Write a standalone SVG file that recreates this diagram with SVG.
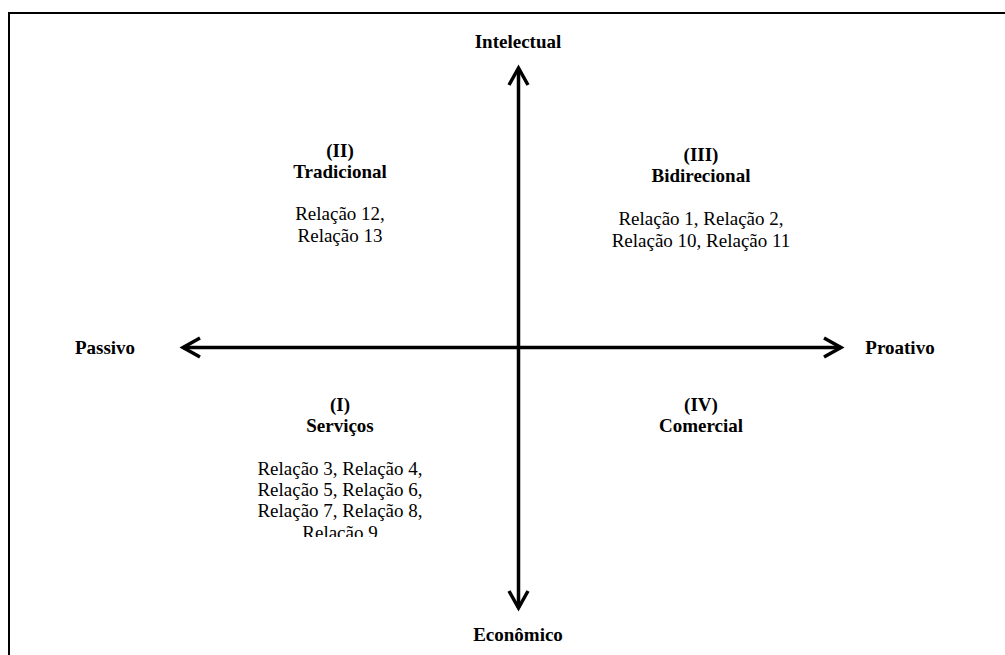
<svg xmlns="http://www.w3.org/2000/svg" width="1005" height="655" viewBox="0 0 1005 655">
<style>
text{font-family:"Liberation Serif","Times New Roman",serif;font-size:19px;fill:#000;text-anchor:middle}
.b{font-weight:bold}
.ax{stroke:#000;stroke-width:3.5;fill:none}
.frame{stroke:#000;stroke-width:2;fill:none}
</style>
<defs>
<marker id="chev" markerUnits="userSpaceOnUse" viewBox="-22 -12 26 24" refX="0" refY="0" markerWidth="26" markerHeight="24" orient="auto-start-reverse">
<path d="M-17,-9.5 L0,0 L-17,9.5" stroke="#000" stroke-width="3.5" fill="none" stroke-linejoin="miter"/>
</marker>
<clipPath id="clipI"><rect x="200" y="380" width="280" height="157"/></clipPath>
</defs>
<rect width="1005" height="655" fill="#fff"/>
<path class="frame" d="M9,660 V13 H1010"/>
<g id="connectors">
<line class="ax" x1="518.5" y1="68" x2="518.5" y2="608" marker-start="url(#chev)" marker-end="url(#chev)"/>
<line class="ax" x1="183" y1="347.5" x2="841" y2="347.5" marker-start="url(#chev)" marker-end="url(#chev)"/>
</g>
<g id="intelectual"><text class="b" x="518" y="48">Intelectual</text></g>
<g id="economico"><text class="b" x="518" y="641">Econômico</text></g>
<g id="passivo"><text class="b" x="105" y="354">Passivo</text></g>
<g id="proativo"><text class="b" x="900" y="354">Proativo</text></g>
<g id="q2">
<text class="b" x="340" y="157">(II)</text>
<text class="b" x="340" y="178">Tradicional</text>
<text x="340" y="220">Relação 12,</text>
<text x="340" y="242">Relação 13</text>
</g>
<g id="q3">
<text class="b" x="701" y="161">(III)</text>
<text class="b" x="701" y="182">Bidirecional</text>
<text x="701" y="225">Relação 1, Relação 2,</text>
<text x="701" y="247">Relação 10, Relação 11</text>
</g>
<g id="q1" clip-path="url(#clipI)">
<text class="b" x="340" y="411">(I)</text>
<text class="b" x="340" y="432">Serviços</text>
<text x="340" y="475">Relação 3, Relação 4,</text>
<text x="340" y="496">Relação 5, Relação 6,</text>
<text x="340" y="517">Relação 7, Relação 8,</text>
<text x="340" y="539">Relação 9</text>
</g>
<g id="q4">
<text class="b" x="701" y="411">(IV)</text>
<text class="b" x="701" y="432">Comercial</text>
</g>
</svg>
